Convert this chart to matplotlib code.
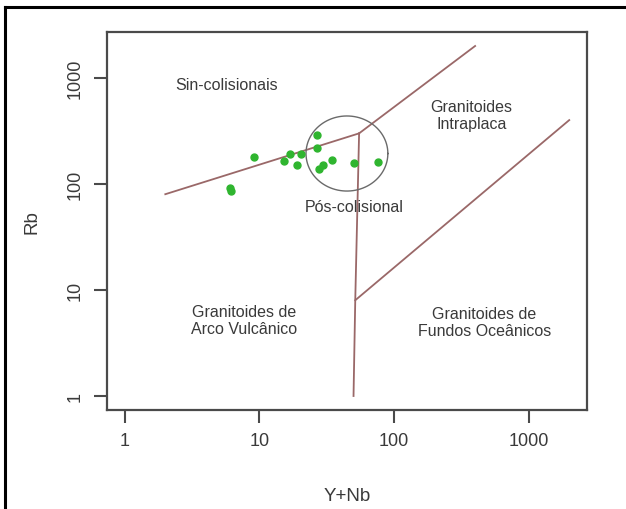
import numpy as np
import matplotlib
matplotlib.use("Agg")
import matplotlib.pyplot as plt
from matplotlib.lines import Line2D
from matplotlib.ticker import FixedLocator, FixedFormatter, NullLocator

plt.rcParams['font.family'] = ['Liberation Sans', 'DejaVu Sans']

# sample data (Y+Nb, Rb)
ynb = [26.9, 9.1, 16.9, 20.4, 26.6, 15.2, 18.9, 34.7, 29.8, 27.8, 50.3, 76.0, 6.0, 6.2]
rb = [292, 180, 191, 191, 219, 164, 152, 167, 152, 138, 156, 162, 92, 85]

# Pearce (1984) field boundaries
syn_vag_x = [2, 55]
syn_vag_y = [80, 300]
wpg_syn_x = [55, 400]
wpg_syn_y = [300, 2000]
vag_org_x = [55, 51.5, 50]
vag_org_y = [300, 8, 1]
wpg_org_x = [51.5, 2000]
wpg_org_y = [8, 400]

# post-collisional field (log10 centre and radii)
post_cx, post_cy = 1.650, 2.287
post_rx, post_ry = 0.304, 0.354

ticks = [1, 10, 100, 1000]
tick_labels = ["1", "10", "100", "1000"]

fig = plt.figure(figsize=(6.26, 5.10), dpi=100)
ax = fig.add_axes([107 / 626, 1 - 411 / 510, 480 / 626, 378 / 510])

lc = "#9a6868"
ax.plot(syn_vag_x, syn_vag_y, color=lc, lw=1.3)
ax.plot(wpg_syn_x, wpg_syn_y, color=lc, lw=1.3)
ax.plot(vag_org_x, vag_org_y, color=lc, lw=1.3)
ax.plot(wpg_org_x, wpg_org_y, color=lc, lw=1.3)

t = np.linspace(0, 2 * np.pi, 200)
ax.plot(10 ** (post_cx + post_rx * np.cos(t)), 10 ** (post_cy + post_ry * np.sin(t)),
        color="#6a6a6a", lw=1.0)

ax.plot(ynb, rb, "o", color="#2fb52f", ms=5, mec="#2fb52f", ls="none")

tc = "#3a3a3a"
fs = 11.5
ax.text(5.7, 861, "Sin-colisionais", ha="center", va="center", fontsize=fs, color=tc)
ax.text(7.7, 5.2, "Granitoides de\nArco Vulcânico", ha="center", va="center",
        fontsize=fs, color=tc, linespacing=1.15)
ax.text(51, 61.5, "Pós-colisional", ha="center", va="center", fontsize=fs, color=tc)
ax.text(376, 450, "Granitoides\nIntraplaca", ha="center", va="center",
        fontsize=fs, color=tc, linespacing=1.15)
ax.text(470, 5.0, "Granitoides de\nFundos Oceânicos", ha="center", va="center",
        fontsize=fs, color=tc, linespacing=1.15)

ax.set_xscale("log")
ax.set_yscale("log")
lo, hi = 10 ** -0.132, 10 ** 3.433
ax.set_xlim(lo, hi)
ax.set_ylim(lo, hi)
for axis in (ax.xaxis, ax.yaxis):
    axis.set_major_locator(FixedLocator(ticks))
    axis.set_major_formatter(FixedFormatter(tick_labels))
    axis.set_minor_locator(NullLocator())

sc = "#4a4a4a"
for s in ax.spines.values():
    s.set_color(sc)
    s.set_linewidth(1.6)
ax.tick_params(length=9.5, width=1.5, color=sc, labelcolor=tc, labelsize=13)
ax.tick_params(axis="x", pad=6)
ax.tick_params(axis="y", pad=7)
for lab in ax.get_yticklabels():
    lab.set_rotation(90)
    lab.set_va("center")

ax.set_xlabel("Y+Nb", fontsize=13.5, color=tc, labelpad=28)
ax.set_ylabel("Rb", fontsize=13.5, color=tc, labelpad=19)

# screenshot frame (left and top edges)
fig.add_artist(Line2D([5 / 626, 5 / 626], [0, 1 - 8 / 510], transform=fig.transFigure,
                      color="black", lw=2.2))
fig.add_artist(Line2D([5 / 626, 1], [1 - 8 / 510, 1 - 8 / 510], transform=fig.transFigure,
                      color="black", lw=2.2))

fig.savefig("out.png", dpi=100)
